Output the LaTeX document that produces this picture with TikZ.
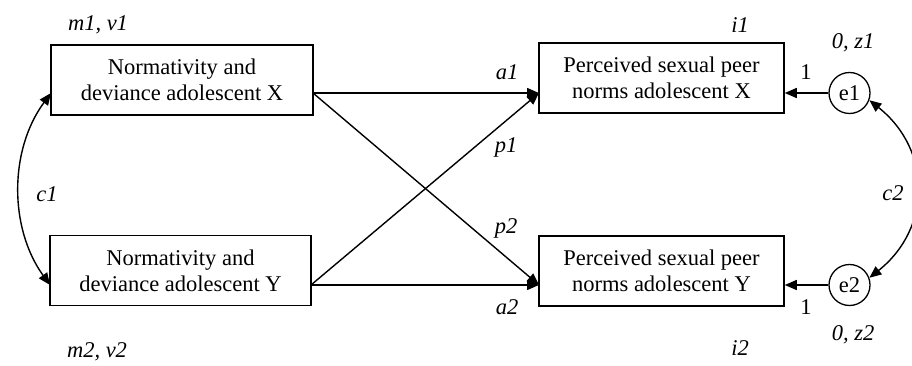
\documentclass[tikz,border=0pt]{standalone}
\usepackage{fontspec}
\setmainfont{Liberation Serif}
\usetikzlibrary{arrows.meta}
\begin{document}
\begin{tikzpicture}[x=1pt,y=-1pt,
  every node/.style={font=\fontsize{22.5}{26}\selectfont},
  varbox/.style={draw,line width=1.5pt,minimum height=70pt,inner sep=0pt,align=center},
  errc/.style={draw,circle,line width=1.3pt,minimum size=41pt,inner sep=0pt},
  lab/.style={font=\fontsize{22.5}{26}\selectfont\itshape,inner sep=0pt},
  one/.style={font=\fontsize{22.5}{26}\selectfont,inner sep=0pt},
  path/.style={line width=1.4pt,-{Triangle[length=12pt,width=10pt]}},
  cov/.style={line width=1.4pt,{Triangle[length=12pt,width=10pt]}-{Triangle[length=12pt,width=10pt]}}
]
\useasboundingbox (0,0) rectangle (912,366);
\node[varbox,minimum width=262pt] (X1) at (182,80) {Normativity and\\deviance adolescent X};
\node[varbox,minimum width=261pt] (Y1) at (180.5,270.5) {Normativity and\\deviance adolescent Y};
\node[varbox,minimum width=245pt] (X2) at (661.5,78) {Perceived sexual peer\\norms adolescent X};
\node[varbox,minimum width=245pt] (Y2) at (661.5,271) {Perceived sexual peer\\norms adolescent Y};
\node[errc] (e1) at (849.5,93) {e1};
\node[errc] (e2) at (849.5,285) {e2};
\coordinate (X1o) at (313,93);
\coordinate (Y1o) at (311,285);
\coordinate (X2i) at (539,93);
\coordinate (Y2i) at (539,285);
\draw[path] (X1o) -- (X2i);
\draw[path] (X1o) -- (Y2i);
\draw[path] (Y1o) -- (X2i);
\draw[path] (Y1o) -- (Y2i);
\draw[path] (e1.west) -- (e1.west -| X2.east);
\draw[path] (e2.west) -- (e2.west -| Y2.east);
\coordinate (X1l) at (51,93);
\coordinate (Y1l) at (50,285);
\draw[cov] (X1l) .. controls (9,150) and (9,228) .. (Y1l);
\draw[cov] (e1.-20) .. controls (932,150) and (932,228) .. (e2.20);
\node[lab] (mv1) at (98,25) {m1, v1};
\node[lab] (mv2) at (97,352) {m2, v2};
\node[lab] (c1) at (47,194) {c1};
\node[lab] (a1) at (507,72) {a1};
\node[lab] (p1) at (506,147) {p1};
\node[lab] (p2) at (506,228) {p2};
\node[lab] (a2) at (507,307) {a2};
\node[lab] (i1) at (740,25) {i1};
\node[lab] (i2) at (740,348) {i2};
\node[lab] (z1) at (853,43) {0, z1};
\node[lab] (z2) at (853,335) {0, z2};
\node[one] (o1) at (806,72) {1};
\node[one] (o2) at (806,307) {1};
\node[lab] (c2) at (893,193) {c2};
\end{tikzpicture}
\end{document}
